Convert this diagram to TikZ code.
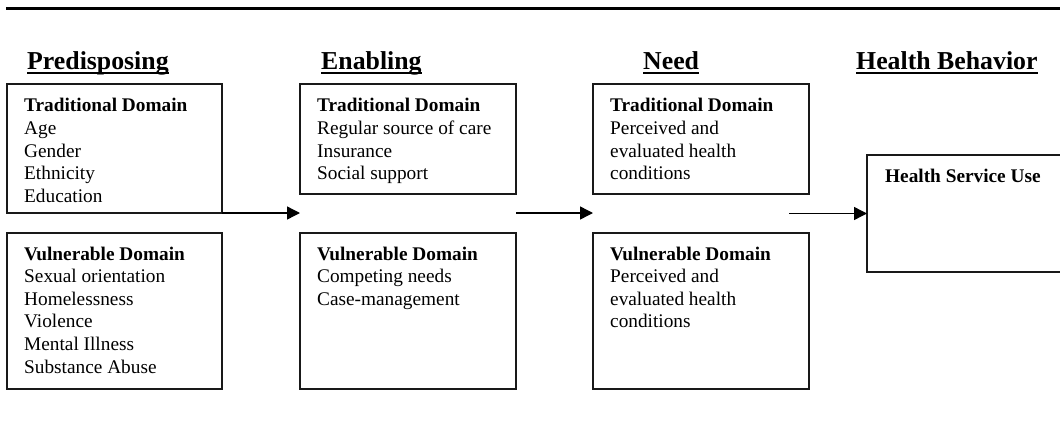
\documentclass[tikz,border=0pt]{standalone}
\usepackage{fontspec}
\setmainfont{Liberation Serif}
\usetikzlibrary{calc,arrows.meta}
\begin{document}
\begin{tikzpicture}[x=1pt,y=-1pt,
  box/.style={draw=black!90, line width=1.4pt, rectangle, inner sep=0pt, outer sep=0pt, anchor=north west},
  body/.style={anchor=north west, inner sep=0pt, align=left, font=\fontsize{19.3}{22.6}\selectfont},
  head/.style={anchor=base west, inner sep=0pt, font=\fontsize{25.8}{30}\selectfont\bfseries},
  flow/.style={line width=1.4pt, -{Triangle[length=13pt,width=13pt]}},
  headrule/.style={line width=2pt}]
\useasboundingbox (0,0) rectangle (1060,434);
\clip (0,0) rectangle (1060,434);

% rule across the top
\draw[line width=2.8pt] (6,8.7) -- (1060,8.7);

% column headings, underlined
\node[head] (h1) at (27,69) {Predisposing};
\node[head] (h2) at (321,69) {Enabling};
\node[head] (h3) at (643,69) {Need};
\node[head] (h4) at (856,69) {Health Behavior};
\foreach \h in {h1,h2,h3,h4}
  \draw[headrule] ($(\h.base west)+(0,4.2)$) -- ($(\h.base east)+(0,4.2)$);

% predisposing
\node[box, minimum width=215pt, minimum height=129pt] (pt) at (7,84) {};
\node[body] (ptx) at ($(pt.north west)+(17,14.4)$)
  {\textbf{Traditional Domain}\\Age\\Gender\\Ethnicity\\Education};
\node[box, minimum width=215pt, minimum height=156pt] (pv) at (7,233) {};
\node[body] (pvx) at ($(pv.north west)+(17,13.6)$)
  {\textbf{Vulnerable Domain}\\Sexual orientation\\Homelessness\\Violence\\Mental Illness\\Substance Abuse};

% enabling
\node[box, minimum width=216pt, minimum height=110pt] (et) at (300,84) {};
\node[body] (etx) at ($(et.north west)+(17,14.4)$)
  {\textbf{Traditional Domain}\\Regular source of care\\Insurance\\Social support};
\node[box, minimum width=216pt, minimum height=156pt] (ev) at (300,233) {};
\node[body] (evx) at ($(ev.north west)+(17,13.6)$)
  {\textbf{Vulnerable Domain}\\Competing needs\\Case-management};

% need
\node[box, minimum width=216pt, minimum height=110pt] (nt) at (593,84) {};
\node[body] (ntx) at ($(nt.north west)+(17,14.4)$)
  {\textbf{Traditional Domain}\\Perceived and\\evaluated health\\conditions};
\node[box, minimum width=216pt, minimum height=156pt] (nv) at (593,233) {};
\node[body] (nvx) at ($(nv.north west)+(17,13.6)$)
  {\textbf{Vulnerable Domain}\\Perceived and\\evaluated health\\conditions};

% health behavior
\node[box, minimum width=200pt, minimum height=117pt] (hs) at (867,155) {};
\node[body] (hsx) at ($(hs.north west)+(18,14.4)$) {\textbf{Health Service Use}};

% flow between the columns
\coordinate (s3) at (789,0);
\draw[flow] (pt.south east) -- (pt.south east -| et.west);
\draw[flow] (pt.south east -| et.east) -- (pt.south east -| nt.west);
\draw[flow] (hs.west -| s3) -- (hs.west);
\end{tikzpicture}
\end{document}
